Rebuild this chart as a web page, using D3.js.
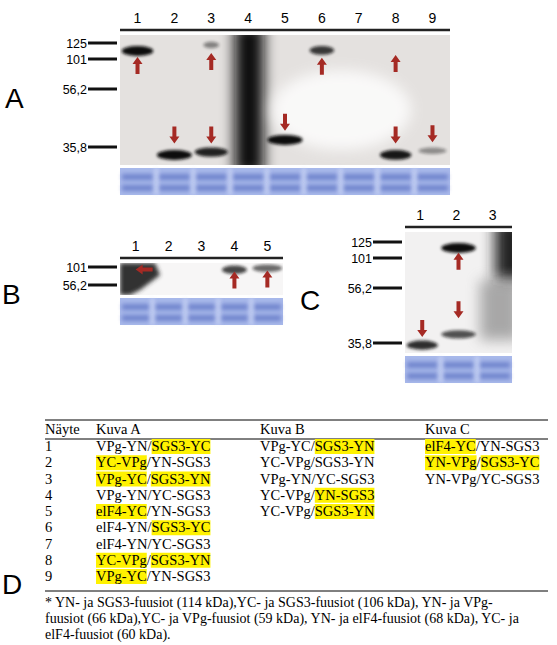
<!DOCTYPE html>
<html>
<head>
<meta charset="utf-8">
<script src="https://cdn.jsdelivr.net/npm/d3@7"></script>
<style>
  body { margin: 0; background: #fff; }
  svg { display: block; }
</style>
</head>
<body>
<svg id="fig" width="557" height="645"></svg>
<script>
// marker sizes (kDa)
var markersA = [125, 101, 56.2, 35.8];
var markersB = [101, 56.2];
var markersC = [125, 101, 56.2, 35.8];
var markerLabels = { 125: "125", 101: "101", 56.2: "56,2", 35.8: "35,8" };

var lanesA = ["1", "2", "3", "4", "5", "6", "7", "8", "9"];
var lanesB = ["1", "2", "3", "4", "5"];
var lanesC = ["1", "2", "3"];

// bands: lane, kDa, darkness (0-1), relative width
var bandsA = [
  { lane: "1", kda: 113, dark: 1.0, w: 0.9 },
  { lane: "3", kda: 122, dark: 0.45, w: 0.45 },
  { lane: "2", kda: 33, dark: 1.0, w: 1.0 },
  { lane: "3", kda: 34, dark: 0.9, w: 0.95 },
  { lane: "5", kda: 38.3, dark: 1.0, w: 1.0 },
  { lane: "6", kda: 114, dark: 0.8, w: 0.7 },
  { lane: "8", kda: 33, dark: 0.95, w: 0.9 },
  { lane: "9", kda: 34.5, dark: 0.4, w: 0.8 }
];
var bandsB = [
  { lane: "4", kda: 94, dark: 0.75, w: 0.8 },
  { lane: "5", kda: 98, dark: 0.6, w: 0.95 }
];
var bandsC = [
  { lane: "2", kda: 116, dark: 1.0, w: 1.0 },
  { lane: "1", kda: 35, dark: 0.85, w: 0.9 },
  { lane: "2", kda: 39, dark: 0.7, w: 1.0 }
];

// arrows: lane, kDa of arrow tip, direction
var arrowsA = [
  { lane: "1", kda: 104, dir: "up" }, { lane: "3", kda: 110, dir: "up" },
  { lane: "6", kda: 103, dir: "up" }, { lane: "8", kda: 107, dir: "up" },
  { lane: "2", kda: 37, dir: "down" }, { lane: "3", kda: 37, dir: "down" },
  { lane: "5", kda: 41.5, dir: "down" }, { lane: "8", kda: 37, dir: "down" },
  { lane: "9", kda: 37.5, dir: "down" }
];
var arrowsB = [
  { lane: "4", kda: 90, dir: "up" }, { lane: "5", kda: 92, dir: "up" },
  { lane: "1", kda: 95, dir: "left" }
];
var arrowsC = [
  { lane: "2", kda: 109, dir: "up" },
  { lane: "1", kda: 38, dir: "down" }, { lane: "2", kda: 45, dir: "down" }
];

// table; [..] marks yellow highlight
var samples = ["1", "2", "3", "4", "5", "6", "7", "8", "9"];
var kuvaA = ["VPg-YN/[SGS3-YC]", "[YC-VPg]/YN-SGS3", "[VPg-YC]/[SGS3-YN]", "VPg-YN/YC-SGS3",
  "[elF4-YC]/YN-SGS3", "elF4-YN/[SGS3-YC]", "elF4-YN/YC-SGS3", "[YC-VPg]/[SGS3-YN]", "[VPg-YC]/YN-SGS3"];
var kuvaB = ["VPg-YC/[SGS3-YN]", "YC-VPg/SGS3-YN", "VPg-YN/YC-SGS3", "YC-VPg/[YN-SGS3]", "YC-VPg/[SGS3-YN]"];
var kuvaC = ["[elF4-YC]/YN-SGS3", "[YN-VPg]/[SGS3-YC]", "YN-VPg/YC-SGS3"];
var footnote = [
  "* YN- ja SGS3-fuusiot (114 kDa),YC- ja SGS3-fuusiot (106 kDa), YN- ja VPg-",
  "fuusiot (66 kDa),YC- ja VPg-fuusiot (59 kDa), YN- ja elF4-fuusiot (68 kDa), YC- ja",
  "elF4-fuusiot (60 kDa)."
];

var svg = d3.select("#fig");
var defs = svg.append("defs");
function blurFilter(id, sd) {
  defs.append("filter").attr("id", id).attr("x", "-300%").attr("y", "-300%").attr("width", "700%").attr("height", "700%")
    .append("feGaussianBlur").attr("stdDeviation", sd);
}
blurFilter("blur", 1.6);
blurFilter("blurBig", 7);
blurFilter("blurS", 2.2);

function drawPanel(cfg) {
  var g = svg.append("g");
  var x = d3.scaleBand().domain(cfg.lanes).range([cfg.x0, cfg.x1]).paddingInner(0.05);
  var y = d3.scaleLinear().domain(cfg.markers).range(cfg.markerY);

  // blot background
  g.append("rect").attr("x", cfg.x0).attr("y", cfg.y0).attr("width", cfg.x1 - cfg.x0)
    .attr("height", cfg.y1 - cfg.y0).attr("fill", cfg.bg);
  var clipId = "clip" + cfg.name;
  defs.append("clipPath").attr("id", clipId).append("rect").attr("x", cfg.x0).attr("y", cfg.y0)
    .attr("width", cfg.x1 - cfg.x0).attr("height", cfg.y1 - cfg.y0);
  var inner = g.append("g").attr("clip-path", "url(#" + clipId + ")");
  if (cfg.extra) cfg.extra(inner, x, y);

  // bands
  inner.selectAll(".band").data(cfg.bands).enter().append("ellipse")
    .attr("cx", function (d) { return x(d.lane) + x.bandwidth() / 2; })
    .attr("cy", function (d) { return y(d.kda); })
    .attr("rx", function (d) { return x.bandwidth() * d.w / 2; })
    .attr("ry", function (d) { return 2 + d.dark * 3; })
    .attr("fill", "#111").attr("opacity", function (d) { return d.dark; })
    .attr("filter", "url(#blur)");

  // top line + lane labels
  g.append("line").attr("x1", cfg.x0).attr("x2", cfg.x1).attr("y1", cfg.y0 - 5).attr("y2", cfg.y0 - 5)
    .attr("stroke", "#222").attr("stroke-width", 2.5);
  g.selectAll(".lane").data(cfg.lanes).enter().append("text")
    .attr("x", function (d) { return x(d) + x.bandwidth() / 2 + (cfg.laneShift || 0); })
    .attr("y", cfg.y0 - 12).attr("text-anchor", "middle")
    .attr("font-family", "Liberation Sans, Arial").attr("font-size", 14).text(function (d) { return d; });

  // markers
  var m = g.selectAll(".mk").data(cfg.markers).enter().append("g");
  m.append("line").attr("x1", cfg.x0 - 32).attr("x2", cfg.x0 - 3)
    .attr("y1", function (d) { return y(d); }).attr("y2", function (d) { return y(d); })
    .attr("stroke", "#111").attr("stroke-width", 3);
  m.append("text").attr("x", cfg.x0 - 33).attr("y", function (d) { return y(d) + 4.5; })
    .attr("text-anchor", "end").attr("font-family", "Liberation Sans, Arial").attr("font-size", 12.5)
    .text(function (d) { return markerLabels[d]; });

  // panel letter
  g.append("text").attr("x", cfg.letterX).attr("y", cfg.letterY).attr("font-family", "Liberation Sans, Arial")
    .attr("font-size", 28).text(cfg.name);

  // arrows
  var arr = g.selectAll(".arrow").data(cfg.arrows).enter().append("g")
    .attr("transform", function (d) {
      var cx = x(d.lane) + x.bandwidth() / 2, cy = y(d.kda);
      var rot = d.dir === "up" ? 0 : d.dir === "down" ? 180 : -90;
      return "translate(" + cx + "," + cy + ") rotate(" + rot + ")";
    });
  arr.append("path").attr("d", "M0,0 L-5,7 L-2,7 L-2,17 L2,17 L2,7 L5,7 Z").attr("fill", "#a52a24");

  // coomassie strip
  var s = g.append("g");
  s.append("rect").attr("x", cfg.x0).attr("y", cfg.y1 + 3).attr("width", cfg.x1 - cfg.x0).attr("height", 27)
    .attr("fill", "#a8b8ea");
  s.selectAll(".cb").data(cfg.lanes).enter().append("g").each(function (d) {
    var gg = d3.select(this);
    [9, 20].forEach(function (off) {
      gg.append("rect").attr("x", x(d) + 2).attr("y", cfg.y1 + 3 + off - 3)
        .attr("width", x.bandwidth() - 4).attr("height", 6).attr("fill", "#5f74c4")
        .attr("opacity", 0.75).attr("filter", "url(#blurS)");
    });
  });
  s.selectAll(".gap").data(cfg.lanes.slice(1)).enter().append("rect")
    .attr("x", function (d) { return x(d) - 2; }).attr("y", cfg.y1 + 3).attr("width", 3).attr("height", 27)
    .attr("fill", "#dfe6fb").attr("opacity", 0.7).attr("filter", "url(#blurS)");
}

drawPanel({
  name: "A", lanes: lanesA, x0: 120, x1: 450, y0: 35, y1: 165,
  markers: markersA, markerY: [43, 59, 89, 147], bands: bandsA, arrows: arrowsA,
  bg: "#e4e1df", letterX: 5, letterY: 108,
  extra: function (inner, x, y) {
    inner.append("rect").attr("x", x("4") + 4).attr("y", 25).attr("width", x.bandwidth() - 6).attr("height", 150)
      .attr("fill", "#111").attr("filter", "url(#blurBig)");
    inner.append("ellipse").attr("cx", x("7")).attr("cy", 110).attr("rx", 70).attr("ry", 40)
      .attr("fill", "#fff").attr("opacity", 0.8).attr("filter", "url(#blurBig)");
  }
});
drawPanel({
  name: "B", lanes: lanesB, x0: 120, x1: 283, y0: 263, y1: 295,
  markers: markersB, markerY: [267, 285], bands: bandsB, arrows: arrowsB,
  bg: "#f7f6f6", letterX: 2, letterY: 304,
  extra: function (inner, x, y) {
    inner.append("path").attr("d", "M120,263 L155,263 L160,275 L140,290 L130,295 L120,295 Z")
      .attr("fill", "#333").attr("filter", "url(#blurS)");
  }
});
drawPanel({
  name: "C", lanes: lanesC, x0: 405, x1: 512, y0: 232, y1: 353,
  markers: markersC, markerY: [242, 258, 288, 343], bands: bandsC, arrows: arrowsC,
  bg: "#f2f1f1", letterX: 300, letterY: 310, laneShift: -2,
  extra: function (inner, x, y) {
    inner.append("rect").attr("x", 495).attr("y", 220).attr("width", 30).attr("height", 60)
      .attr("fill", "#222").attr("filter", "url(#blurBig)");
    inner.append("rect").attr("x", 480).attr("y", 280).attr("width", 40).attr("height", 60)
      .attr("fill", "#777").attr("opacity", 0.6).attr("filter", "url(#blurBig)");
  }
});

// table D
var tf = "Liberation Serif, Times New Roman";
var t = svg.append("g").attr("font-family", tf).attr("font-size", 14.5);
var rowY = d3.scaleLinear().domain([0, 8]).range([451, 581]);
var colX = { n: 45, a: 96, b: 260, c: 425 };

t.append("line").attr("x1", 45).attr("x2", 548).attr("y1", 420).attr("y2", 420).attr("stroke", "#000");
t.append("line").attr("x1", 45).attr("x2", 548).attr("y1", 439).attr("y2", 439).attr("stroke", "#000");
t.append("line").attr("x1", 45).attr("x2", 548).attr("y1", 591).attr("y2", 591).attr("stroke", "#000");
[["Näyte", colX.n], ["Kuva A", colX.a], ["Kuva B", colX.b], ["Kuva C", colX.c]].forEach(function (h) {
  t.append("text").attr("x", h[1]).attr("y", 434).text(h[0]);
});

function cell(str, cx, cy) {
  var parts = str.split(/(\[[^\]]+\])/).filter(function (p) { return p.length; });
  var txt = t.append("text").attr("x", cx).attr("y", cy);
  parts.forEach(function (p) {
    txt.append("tspan").attr("class", p[0] === "[" ? "hl" : "").text(p.replace(/[\[\]]/g, ""));
  });
  txt.selectAll("tspan.hl").each(function () {
    var n = this, nch = n.getNumberOfChars();
    var a = n.getStartPositionOfChar(0).x, b = n.getEndPositionOfChar(nch - 1).x;
    t.insert("rect", "text").attr("x", a).attr("y", cy - 12).attr("width", b - a).attr("height", 15)
      .attr("fill", "#fff200");
  });
}
samples.forEach(function (s, i) {
  t.append("text").attr("x", colX.n).attr("y", rowY(i)).text(s);
  cell(kuvaA[i], colX.a, rowY(i));
  if (kuvaB[i]) cell(kuvaB[i], colX.b, rowY(i));
  if (kuvaC[i]) cell(kuvaC[i], colX.c, rowY(i));
});
footnote.forEach(function (line, i) {
  t.append("text").attr("x", 45).attr("y", 607 + i * 16).attr("font-size", 14).text(line);
});
svg.append("text").attr("x", 2).attr("y", 594).attr("font-family", "Liberation Sans, Arial")
  .attr("font-size", 28).text("D");
</script>
</body>
</html>
